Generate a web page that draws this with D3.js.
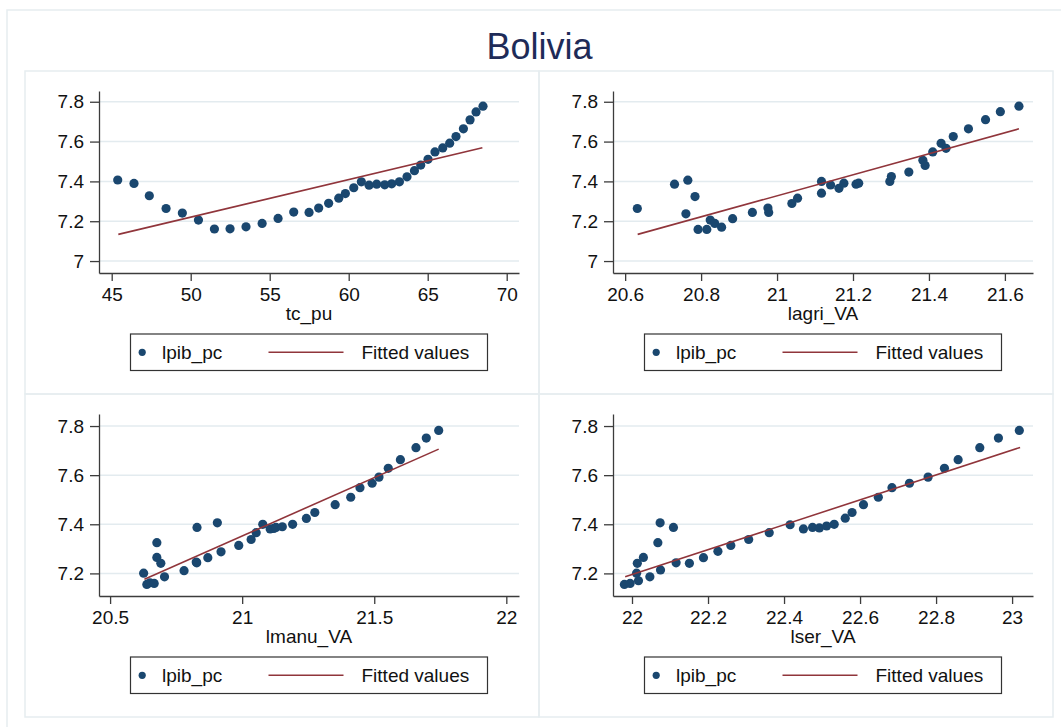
<!DOCTYPE html>
<html>
<head>
<meta charset="utf-8">
<title>Bolivia</title>
<script src="https://cdn.jsdelivr.net/npm/d3@7"></script>
<style>
  body { margin: 0; background: #fff; }
  svg { display: block; font-family: "Liberation Sans", Arial, sans-serif; }
  .frame { fill: none; stroke: #e6edf0; stroke-width: 1.5; }
  .grid { stroke: #e3ebef; stroke-width: 1.5; }
  .axis path, .axis line { stroke: #3c3c3c; stroke-width: 1.3; }
  .axis text { font-size: 19px; fill: #111; font-family: "Liberation Sans", Arial, sans-serif; }
  .axis-title { font-size: 19px; fill: #111; text-anchor: middle; }
  .dot { fill: #1a476f; }
  .fit { stroke: #90353b; stroke-width: 1.6; fill: none; }
  .legend-box { fill: #fff; stroke: #333; stroke-width: 1.2; }
  .legend-text { font-size: 19px; fill: #111; }
  .title { font-size: 36px; fill: #1e2b58; text-anchor: middle; }
</style>
</head>
<body>
<div id="chart"></div>
<script>
// Values, one pair of arrays per panel.
var yTicksTop = [7, 7.2, 7.4, 7.6, 7.8];
var yTicksBottom = [7.2, 7.4, 7.6, 7.8];

var tcPuTicks = [45, 50, 55, 60, 65, 70];
var lagriTicks = [20.6, 20.8, 21, 21.2, 21.4, 21.6];
var lmanuTicks = [20.5, 21, 21.5, 22];
var lserTicks = [22, 22.2, 22.4, 22.6, 22.8, 23];

var tcPu = [45.38, 46.41, 47.38, 48.44, 49.47, 50.49, 51.50, 52.49, 53.50, 54.52,
            55.53, 56.52, 57.49, 58.10, 58.73, 59.37, 59.79, 60.32, 60.80, 61.29,
            61.77, 62.28, 62.72, 63.21, 63.69, 64.16, 64.56, 65.02, 65.46, 65.95,
            66.39, 66.79, 67.26, 67.68, 68.06, 68.50];
var lpibTc = [7.407, 7.390, 7.328, 7.264, 7.241, 7.206, 7.161, 7.162, 7.172, 7.189,
              7.214, 7.246, 7.244, 7.266, 7.290, 7.316, 7.339, 7.368, 7.398, 7.381,
              7.386, 7.383, 7.388, 7.398, 7.423, 7.454, 7.482, 7.511, 7.548, 7.568,
              7.592, 7.625, 7.664, 7.709, 7.749, 7.778];

var lagriVA = [20.632, 20.730, 20.765, 20.784, 20.760, 20.792, 20.815, 20.824, 20.836, 20.854,
               20.883, 20.935, 20.976, 20.978, 21.039, 21.054, 21.117, 21.117, 21.141, 21.163,
               21.176, 21.208, 21.215, 21.297, 21.301, 21.347, 21.384, 21.390, 21.410, 21.432,
               21.445, 21.464, 21.504, 21.549, 21.588, 21.637];
var lpibAgri = [7.264, 7.386, 7.406, 7.324, 7.237, 7.159, 7.159, 7.206, 7.189, 7.170,
                7.213, 7.244, 7.266, 7.244, 7.289, 7.316, 7.341, 7.400, 7.382, 7.365,
                7.391, 7.386, 7.391, 7.400, 7.424, 7.447, 7.506, 7.480, 7.548, 7.591,
                7.566, 7.625, 7.664, 7.710, 7.750, 7.778];

var lmanuVA = [20.627, 20.639, 20.651, 20.667, 20.677, 20.677, 20.692, 20.706, 20.780, 20.828,
               20.826, 20.829, 20.870, 20.906, 20.920, 20.987, 21.034, 21.053, 21.078, 21.106,
               21.120, 21.128, 21.152, 21.191, 21.243, 21.275, 21.352, 21.411, 21.446, 21.492,
               21.518, 21.553, 21.599, 21.658, 21.697, 21.744];
var lpibManu = [7.201, 7.155, 7.162, 7.159, 7.325, 7.265, 7.241, 7.186, 7.211, 7.243,
                7.246, 7.387, 7.264, 7.406, 7.288, 7.314, 7.338, 7.366, 7.400, 7.381,
                7.383, 7.387, 7.390, 7.400, 7.424, 7.448, 7.480, 7.510, 7.549, 7.567,
                7.592, 7.628, 7.663, 7.712, 7.751, 7.782];

var lserVA = [21.980, 21.995, 22.012, 22.014, 22.017, 22.030, 22.047, 22.068, 22.074, 22.075,
              22.109, 22.116, 22.151, 22.188, 22.226, 22.260, 22.307, 22.361, 22.416, 22.451,
              22.475, 22.493, 22.512, 22.532, 22.561, 22.579, 22.609, 22.648, 22.684, 22.730,
              22.779, 22.822, 22.858, 22.915, 22.964, 23.019];
var lpibSer = [7.155, 7.159, 7.201, 7.241, 7.170, 7.265, 7.186, 7.325, 7.406, 7.214,
               7.387, 7.243, 7.241, 7.264, 7.290, 7.314, 7.338, 7.366, 7.398, 7.381,
               7.387, 7.385, 7.393, 7.400, 7.425, 7.448, 7.480, 7.510, 7.549, 7.567,
               7.592, 7.628, 7.663, 7.712, 7.751, 7.782];

// Fitted values at the two ends of each line.
var fitTc = [[45.42, 7.134], [68.46, 7.569]];
var fitAgri = [[20.633, 7.134], [21.637, 7.664]];
var fitManu = [[20.630, 7.176], [21.744, 7.706]];
var fitSer = [[21.982, 7.186], [23.021, 7.713]];

;(function() {
  'use strict';

  var width = 1061, height = 727;

  // Plot area inside a panel (panel-relative pixels).
  var plot = {left: 74, right: 494, top: 20, bottom: 202};
  var panelW = 514, panelH = 323;

  var fmt = function(d) { return String(+d.toFixed(1)); };

  var panels = [
    {x: tcPu, y: lpibTc, fit: fitTc, xTicks: tcPuTicks, yTicks: yTicksTop,
     xDomain: [44.196, 70.778], yDomain: [6.940, 7.854], label: 'tc_pu', ox: 25, oy: 71},
    {x: lagriVA, y: lpibAgri, fit: fitAgri, xTicks: lagriTicks, yTicks: yTicksTop,
     xDomain: [20.568, 21.674], yDomain: [6.940, 7.854], label: 'lagri_VA', ox: 539, oy: 71},
    {x: lmanuVA, y: lpibManu, fit: fitManu, xTicks: lmanuTicks, yTicks: yTicksBottom,
     xDomain: [20.458, 22.048], yDomain: [7.108, 7.849], label: 'lmanu_VA', ox: 25, oy: 394},
    {x: lserVA, y: lpibSer, fit: fitSer, xTicks: lserTicks, yTicks: yTicksBottom,
     xDomain: [21.950, 23.055], yDomain: [7.108, 7.849], label: 'lser_VA', ox: 539, oy: 394}
  ];

  var svg = d3.select('#chart').append('svg')
      .attr('width', width)
      .attr('height', height);

  svg.append('rect').attr('width', width).attr('height', height).attr('fill', '#fff');

  // Outer graph frame (runs off the right and bottom edges).
  svg.append('rect').classed('frame', true)
      .attr('x', 7).attr('y', 10)
      .attr('width', width).attr('height', height);

  svg.append('text').classed('title', true)
      .attr('x', 539.5).attr('y', 58.5)
      .text('Bolivia');

  panels.forEach(drawPanel);

  function drawPanel(p) {
    var g = svg.append('g').attr('transform', translation(p.ox, p.oy));

    g.append('rect').classed('frame', true)
        .attr('width', panelW).attr('height', panelH);

    var xScale = d3.scaleLinear().domain(p.xDomain).range([plot.left, plot.right]);
    var yScale = d3.scaleLinear().domain(p.yDomain).range([plot.bottom, plot.top]);

    // Horizontal grid lines at the y ticks.
    g.selectAll('.grid').data(p.yTicks).enter()
        .append('line').classed('grid', true)
        .attr('x1', plot.left).attr('x2', plot.right)
        .attr('y1', yScale).attr('y2', yScale);

    g.append('g').classed('axis', true)
        .attr('transform', translation(plot.left, 0))
        .call(d3.axisLeft(yScale).tickValues(p.yTicks).tickFormat(fmt)
              .tickSize(9).tickSizeOuter(0).tickPadding(6));

    g.append('g').classed('axis', true)
        .attr('transform', translation(0, plot.bottom))
        .call(d3.axisBottom(xScale).tickValues(p.xTicks).tickFormat(fmt)
              .tickSize(8).tickSizeOuter(0).tickPadding(7));

    g.selectAll('.axis text').attr('font-family', null);

    g.append('text').classed('axis-title', true)
        .attr('x', (plot.left + plot.right) / 2)
        .attr('y', plot.bottom + 46.5)
        .text(p.label);

    var pts = p.x.map(function(d, i) { return [d, p.y[i]]; });

    g.selectAll('.dot').data(pts).enter()
        .append('circle').classed('dot', true)
        .attr('cx', function(d) { return xScale(d[0]); })
        .attr('cy', function(d) { return yScale(d[1]); })
        .attr('r', 4.6);

    var line = d3.line()
        .x(function(d) { return xScale(d[0]); })
        .y(function(d) { return yScale(d[1]); });

    g.append('path').classed('fit', true).attr('d', line(p.fit));

    drawLegend(g, (plot.left + plot.right) / 2 - 178.5, 263);
  }

  function drawLegend(g, x, y) {
    var lg = g.append('g').attr('transform', translation(x, y));
    lg.append('rect').classed('legend-box', true)
        .attr('width', 357).attr('height', 36.5);
    lg.append('circle').classed('dot', true)
        .attr('cx', 11.7).attr('cy', 18.3).attr('r', 3.6);
    lg.append('text').classed('legend-text', true)
        .attr('x', 31.5).attr('y', 25)
        .text('lpib_pc');
    lg.append('line').classed('fit', true)
        .attr('x1', 138).attr('x2', 213)
        .attr('y1', 18.3).attr('y2', 18.3);
    lg.append('text').classed('legend-text', true)
        .attr('x', 231).attr('y', 25)
        .text('Fitted values');
  }

  /**
   * Utility function to save manually writing translate().
   */
  function translation(x, y) {
    return 'translate(' + x + ',' + y + ')';
  }

}());
</script>
</body>
</html>
